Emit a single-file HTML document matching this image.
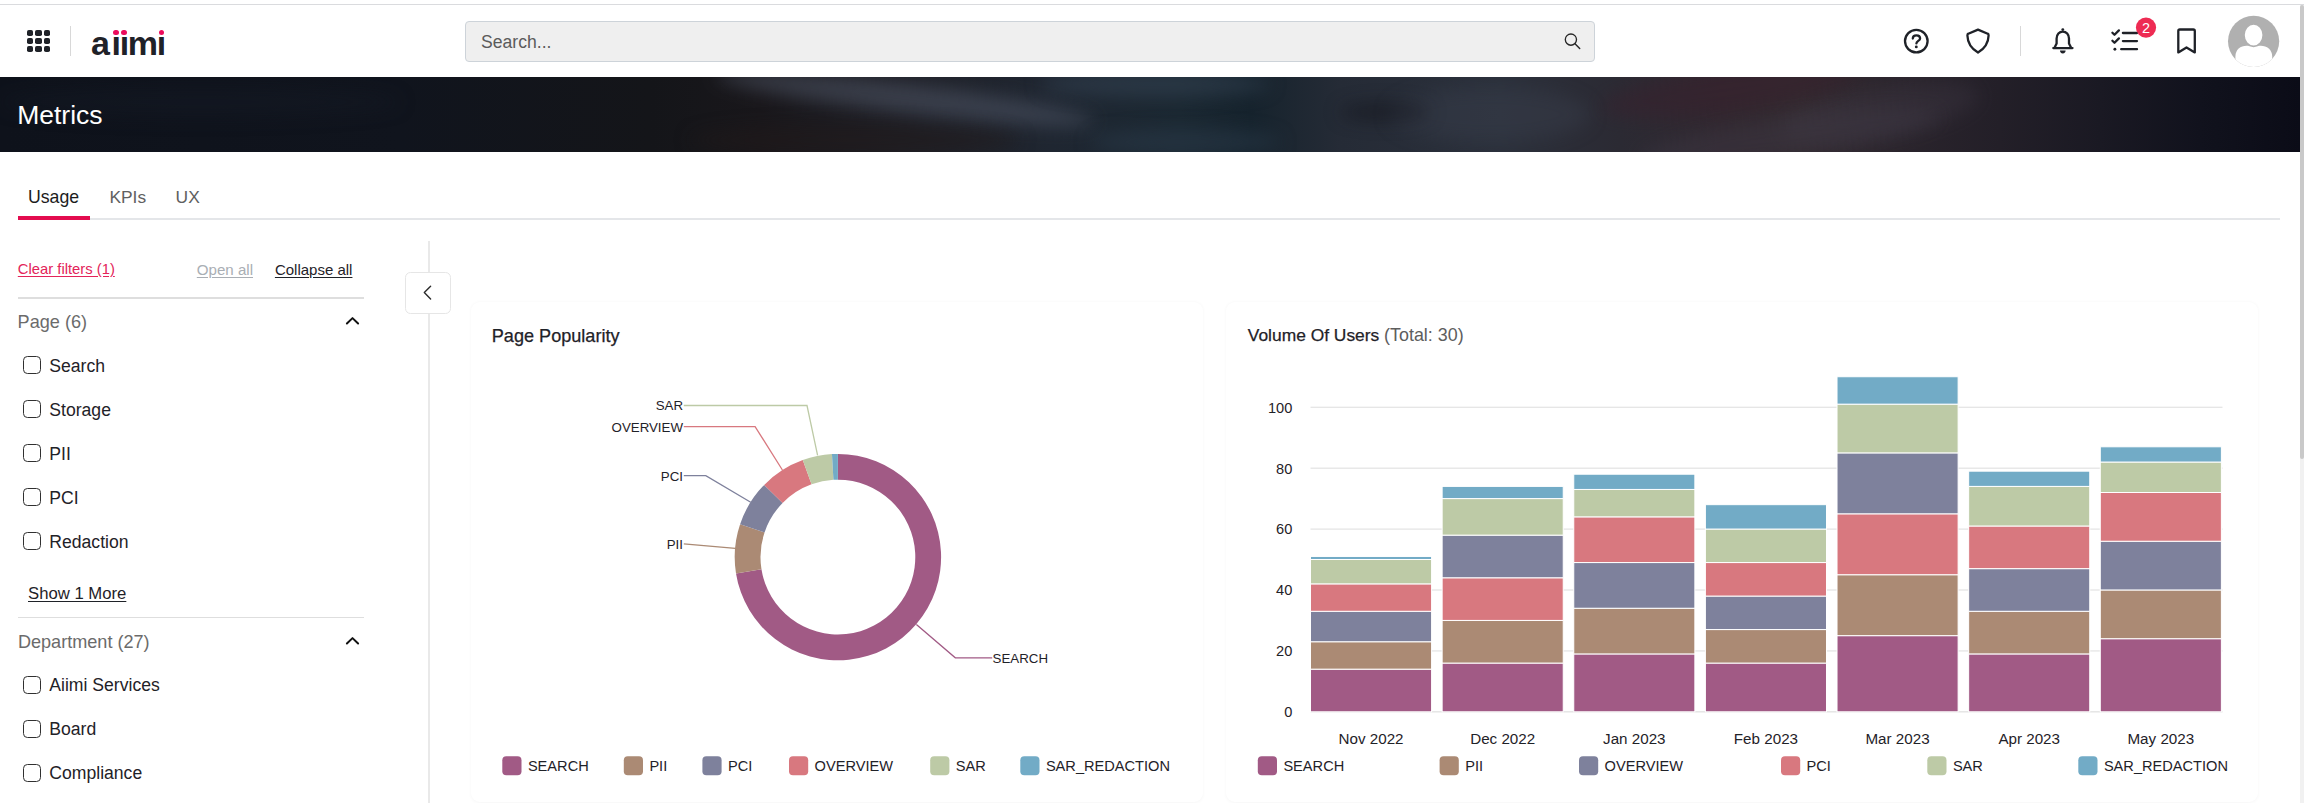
<!DOCTYPE html>
<html lang="en">
<head>
<meta charset="utf-8">
<title>Metrics</title>
<style>
*{margin:0;padding:0;box-sizing:border-box}
html,body{width:2304px;height:803px;overflow:hidden;background:#fff}
body{position:relative;font-family:"Liberation Sans",Arial,sans-serif;color:#1f2228}
.a{position:absolute;white-space:nowrap;line-height:1}
.u{text-decoration:underline;text-underline-offset:2px;text-decoration-thickness:1px}
.med{-webkit-text-stroke:0.35px currentColor}
#topline{position:absolute;left:0;top:4px;width:2304px;height:1px;background:#dadbde}
#sb-track{position:absolute;left:2300px;top:5px;width:4px;height:798px;background:#f1f1f1}
#sb-thumb{position:absolute;left:2300px;top:5px;width:4px;height:454px;background:#c9c9c9;border-radius:2px}
.grid{position:absolute;left:27.3px;top:29.9px;width:24px;height:23px}
.grid i{position:absolute;width:6.2px;height:6px;border-radius:1.8px;background:#1f2228}
.ln{position:absolute;background:#dcdcdc}
#logo{position:absolute;left:91px;top:25.9px;line-height:1;font-weight:bold;font-size:34px;color:#1f2228;letter-spacing:-1.3px;clip-path:inset(9.3px 0 0 0)}
#logo b{letter-spacing:1.6px}
.dot{position:absolute;width:5.6px;height:5.6px;border-radius:50%;background:#ec0c5c}
#search{position:absolute;left:465px;top:21px;width:1130px;height:41px;background:#efefef;border:1px solid #cdd3d9;border-radius:4px}
#banner{position:absolute;left:0;top:77px;width:2300px;height:75px;overflow:hidden;
background:linear-gradient(90deg,#0e121b 0px,#10141d 400px,#141519 650px,#19171b 760px,#1e1f26 900px,#1f2631 1050px,#1b2832 1180px,#16232d 1250px,#252b36 1340px,#2b303b 1500px,#2b2a33 1620px,#30272f 1720px,#31292f 1800px,#2a242c 1900px,#231f28 2000px,#1a1923 2100px,#11121d 2200px,#0b0c17 2300px)}
#banner i{position:absolute;display:block;border-radius:50%;filter:blur(9px)}
.cb{position:absolute;left:23.2px;width:17.6px;height:17.5px;border:1.6px solid #303030;border-radius:4.4px;background:#fff}
.card{position:absolute;background:#fff;border-radius:9px;box-shadow:0 0.5px 3.5px rgba(0,0,0,0.04)}
</style>
</head>
<body>
<div id="topline"></div><div id="sb-track"></div><div id="sb-thumb"></div>
<div class="grid"><i style="left:0.0px;top:0.00px"></i><i style="left:8.2px;top:0.00px"></i><i style="left:16.4px;top:0.00px"></i><i style="left:0.0px;top:8.25px"></i><i style="left:8.2px;top:8.25px"></i><i style="left:16.4px;top:8.25px"></i><i style="left:0.0px;top:16.50px"></i><i style="left:8.2px;top:16.50px"></i><i style="left:16.4px;top:16.50px"></i></div>
<div class="ln" style="left:70.2px;top:26.2px;width:1px;height:30px;background:#d8d8d8"></div>
<div id="logo"><b>a</b>iimi</div>
<div class="dot" style="left:113.4px;top:29.7px"></div><div class="dot" style="left:121.4px;top:29.7px"></div><div class="dot" style="left:158.7px;top:29.7px"></div>
<div id="search"></div>
<div class="a" style="left:481.0px;top:33.70px;font-size:17.6px;color:#5b5b5b;">Search...</div>
<svg style="position:absolute;left:1560px;top:30px" width="26" height="26" viewBox="1560 30 26 26"><circle cx="1570.9" cy="39.6" r="5.6" fill="none" stroke="#262626" stroke-width="1.35"/><path d="M1575 43.7 L1579.7 48.4" stroke="#262626" stroke-width="1.45" stroke-linecap="round"/></svg>
<svg style="position:absolute;left:1890px;top:5px" width="410" height="72" viewBox="1890 5 410 72">
<g fill="none" stroke="#1f2228" stroke-width="2.3" stroke-linecap="round" stroke-linejoin="round">
<circle cx="1916.3" cy="41.1" r="11.3"/>
<path d="M1912.8 38.6 C1912.8 36.3 1914.4 35.3 1916.4 35.3 C1918.5 35.3 1920.1 36.6 1920.1 38.4 C1920.1 40.7 1916.4 41.1 1916.4 43.4"/>
<path d="M1978 29.6 L1968.3 33.7 C1967.5 34 1967.4 34.6 1967.4 35.5 C1967.6 43.2 1971.4 48.6 1978 52.6 C1984.6 48.6 1988.4 43.2 1988.6 35.5 C1988.6 34.6 1988.5 34 1987.7 33.7 Z"/>
<path d="M2053.3 48.1 L2072.5 48.1 M2054.6 47.6 L2056.6 43.6 L2056.6 38.6 C2056.6 34.6 2059.3 31.6 2062.8 31.6 C2066.3 31.6 2069 34.6 2069 38.6 L2069 43.6 L2071 47.6"/>
<path d="M2112.4 32.7 L2114.5 34.8 L2118.9 30.4 M2112.4 40.7 L2114.5 42.8 L2118.9 38.4"/>
<path d="M2122.9 33 L2137 33 M2122.9 41.1 L2137 41.1 M2121.2 49.2 L2137 49.2"/>
<path d="M2179.8 29.5 L2193.3 29.5 Q2194.8 29.5 2194.8 31 L2194.8 52.4 L2186.5 47.4 L2178.3 52.4 L2178.3 31 Q2178.3 29.5 2179.8 29.5 Z"/>
</g>
<g fill="#1f2228">
<circle cx="1916.3" cy="46.9" r="1.45"/>
<circle cx="2062.8" cy="29.6" r="1.4"/>
<path d="M2060 50.6 L2065.6 50.6 A2.8 2.8 0 0 1 2060 50.6 Z"/>
<circle cx="2114.9" cy="49.2" r="1.45"/>
</g>
<circle cx="2146" cy="27.6" r="10.1" fill="#ee2b53"/>
<text x="2146" y="32.6" fill="#fff" font-size="14.5" text-anchor="middle" font-family="Liberation Sans, Arial, sans-serif">2</text>
<defs><clipPath id="av"><circle cx="2253.6" cy="41.3" r="25.6"/></clipPath></defs>
<circle cx="2253.6" cy="41.3" r="25.6" fill="#b0b0b0"/>
<g clip-path="url(#av)" fill="#fff">
<path d="M2235.4 70 L2235.4 56.5 C2235.4 49.5 2240.5 45.7 2246.5 45.7 L2260.8 45.7 C2266.8 45.7 2272.2 49.5 2272.2 56.5 L2272.2 70 Z"/>
<ellipse cx="2253.6" cy="35.1" rx="9.7" ry="11.2" stroke="#b0b0b0" stroke-width="1.8"/>
</g>
</svg>
<div class="ln" style="left:2020px;top:26.2px;width:1px;height:30px;background:#d8d8d8"></div>
<div id="banner"><i style="left:715px;top:6px;width:380px;height:30px;background:rgba(78,86,102,0.55);transform:rotate(7deg)"></i><i style="left:690px;top:48px;width:330px;height:30px;background:rgba(34,26,26,0.5)"></i><i style="left:1390px;top:10px;width:200px;height:55px;background:rgba(60,66,80,0.35)"></i><i style="left:1780px;top:10px;width:200px;height:50px;background:rgba(66,58,72,0.3);transform:rotate(-10deg)"></i><i style="left:1040px;top:-6px;width:230px;height:26px;background:rgba(52,68,84,0.55)"></i><i style="left:1090px;top:52px;width:190px;height:26px;background:rgba(44,60,76,0.5)"></i><i style="left:1340px;top:26px;width:90px;height:18px;background:rgba(14,14,20,0.45)"></i><i style="left:1600px;top:-10px;width:260px;height:45px;background:rgba(58,32,44,0.45);transform:rotate(-8deg)"></i><i style="left:1640px;top:40px;width:300px;height:40px;background:rgba(62,58,70,0.4);transform:rotate(-8deg)"></i><i style="left:0px;top:10px;width:400px;height:30px;background:rgba(24,28,40,0.35)"></i></div>
<div class="a" style="left:17.2px;top:102.47px;font-size:26.5px;color:#ffffff;">Metrics</div>
<div class="a" style="left:28.0px;top:188.62px;font-size:17.7px;color:#1c1c1c;">Usage</div>
<div class="a" style="left:109.4px;top:188.87px;font-size:17.4px;color:#606060;">KPIs</div>
<div class="a" style="left:175.6px;top:188.87px;font-size:17.4px;color:#606060;">UX</div>
<div class="ln" style="left:18px;top:218px;width:2261.5px;height:2px;background:#e4e6e9"></div>
<div class="ln" style="left:18px;top:216px;width:71.7px;height:4px;background:#e30c4f"></div>
<div class="a" style="left:17.8px;top:261.97px;font-size:14.8px;color:#e3245a;text-decoration:underline;text-underline-offset:1.5px">Clear filters (1)</div>
<div class="a" style="left:196.8px;top:261.72px;font-size:15.1px;color:#a9aeb4;text-decoration:underline;text-underline-offset:1.5px">Open all</div>
<div class="a" style="left:274.9px;top:261.80px;font-size:15.0px;color:#1f2228;text-decoration:underline;text-underline-offset:1.5px">Collapse all</div>
<div class="ln" style="left:18px;top:297px;width:346px;height:1.5px;background:#dedede"></div>
<div class="a" style="left:17.6px;top:313.48px;font-size:18.1px;color:#6b6b6b;">Page (6)</div>
<svg style="position:absolute;left:340px;top:311px" width="26" height="20" viewBox="340 311 26 20"><path d="M346.9 323.5 L352.5 318.1 L358.1 323.5" fill="none" stroke="#111" stroke-width="2" stroke-linecap="round" stroke-linejoin="round"/></svg>
<div class="cb" style="top:356.3px"></div><div class="a" style="left:49.3px;top:357.50px;font-size:17.6px;color:#1f2228;">Search</div>
<div class="cb" style="top:400.3px"></div><div class="a" style="left:49.3px;top:401.50px;font-size:17.6px;color:#1f2228;">Storage</div>
<div class="cb" style="top:444.3px"></div><div class="a" style="left:49.3px;top:445.50px;font-size:17.6px;color:#1f2228;">PII</div>
<div class="cb" style="top:488.3px"></div><div class="a" style="left:49.3px;top:489.50px;font-size:17.6px;color:#1f2228;">PCI</div>
<div class="cb" style="top:532.3px"></div><div class="a" style="left:49.3px;top:533.50px;font-size:17.6px;color:#1f2228;">Redaction</div>
<div class="a" style="left:28.0px;top:585.66px;font-size:16.7px;color:#1f2228;text-decoration:underline;text-underline-offset:2px">Show 1 More</div>
<div class="ln" style="left:18px;top:616.5px;width:346px;height:1.5px;background:#dedede"></div>
<div class="a" style="left:17.9px;top:633.18px;font-size:18.1px;color:#6b6b6b;">Department (27)</div>
<svg style="position:absolute;left:340px;top:631px" width="26" height="20" viewBox="340 631 26 20"><path d="M346.9 643.5 L352.5 638.1 L358.1 643.5" fill="none" stroke="#111" stroke-width="2" stroke-linecap="round" stroke-linejoin="round"/></svg>
<div class="cb" style="top:676.4px"></div><div class="a" style="left:49.3px;top:677.40px;font-size:17.6px;color:#1f2228;">Aiimi Services</div>
<div class="cb" style="top:720.4px"></div><div class="a" style="left:49.3px;top:721.40px;font-size:17.6px;color:#1f2228;">Board</div>
<div class="cb" style="top:764.4px"></div><div class="a" style="left:49.3px;top:765.40px;font-size:17.6px;color:#1f2228;">Compliance</div>
<div class="ln" style="left:428.2px;top:240.5px;width:1.9px;height:563px;background:#e9e9e9"></div>
<div style="position:absolute;left:405.3px;top:271.5px;width:45.4px;height:42.6px;border:1.5px solid #e6e6e6;border-radius:5.5px;background:#fff"></div>
<svg style="position:absolute;left:415px;top:280px" width="25" height="25" viewBox="415 280 25 25"><path d="M430.6 286.3 L424.3 292.6 L430.6 298.9" fill="none" stroke="#2a2a2a" stroke-width="1.4" stroke-linecap="round" stroke-linejoin="round"/></svg>
<div class="card" style="left:471px;top:302px;width:731.5px;height:500px"></div>
<div class="card" style="left:1225.8px;top:302px;width:1032.7px;height:500px"></div>
<div class="a" style="left:491.8px;top:326.58px;font-size:18.1px;color:#1f2228;-webkit-text-stroke:0.25px #1f2228">Page Popularity</div>
<div class="a" style="left:1247.8px;top:327.17px;font-size:17.4px;color:#1f2228;-webkit-text-stroke:0.25px #1f2228">Volume Of Users <span style="-webkit-text-stroke:0;color:#5d5d5d;font-size:17.9px">(Total: 30)</span></div>
<svg style="position:absolute;left:471px;top:301px" width="732" height="501" viewBox="471 301 732 501"><path d="M837.90 453.90 A103.2 103.2 0 1 1 736.00 573.42 L761.47 569.34 A77.4 77.4 0 1 0 837.90 479.70 Z" fill="#a15a85"/><path d="M736.00 573.42 A103.2 103.2 0 0 1 740.09 524.18 L764.54 532.41 A77.4 77.4 0 0 0 761.47 569.34 Z" fill="#ab8a74"/><path d="M740.09 524.18 A103.2 103.2 0 0 1 764.17 484.89 L782.60 502.95 A77.4 77.4 0 0 0 764.54 532.41 Z" fill="#7e819c"/><path d="M764.17 484.89 A103.2 103.2 0 0 1 802.77 460.06 L811.55 484.32 A77.4 77.4 0 0 0 782.60 502.95 Z" fill="#d8787f"/><path d="M802.77 460.06 A103.2 103.2 0 0 1 831.96 454.07 L833.44 479.83 A77.4 77.4 0 0 0 811.55 484.32 Z" fill="#bdcaa6"/><path d="M831.96 454.07 A103.2 103.2 0 0 1 837.90 453.90 L837.90 479.70 A77.4 77.4 0 0 0 833.44 479.83 Z" fill="#72abc6"/><path d="M683.8 405.5 L807.0 405.5 L817.6 455.4" fill="none" stroke="#bdcaa6" stroke-width="1.3"/><path d="M683.8 426.6 L755.1 426.6 L782.4 470.0" fill="none" stroke="#d8787f" stroke-width="1.3"/><path d="M683.8 475.7 L705.8 475.7 L750.7 502.2" fill="none" stroke="#7e819c" stroke-width="1.3"/><path d="M683.8 543.9 L735.4 548.3" fill="none" stroke="#ab8a74" stroke-width="1.3"/><path d="M916.4 624.4 L955.3 657.8 L992.2 657.8" fill="none" stroke="#a15a85" stroke-width="1.3"/><text x="683" y="410.4" font-size="13.3" text-anchor="end" fill="#1f2228" font-family="Liberation Sans, Arial, sans-serif">SAR</text><text x="683" y="431.5" font-size="13.3" text-anchor="end" fill="#1f2228" font-family="Liberation Sans, Arial, sans-serif">OVERVIEW</text><text x="683" y="480.6" font-size="13.3" text-anchor="end" fill="#1f2228" font-family="Liberation Sans, Arial, sans-serif">PCI</text><text x="683" y="548.8" font-size="13.3" text-anchor="end" fill="#1f2228" font-family="Liberation Sans, Arial, sans-serif">PII</text><text x="992.6" y="662.7" font-size="13.3" fill="#1f2228" font-family="Liberation Sans, Arial, sans-serif">SEARCH</text><rect x="502.3" y="756.2" width="19.2" height="19" rx="4" fill="#a15a85"/><text x="527.9" y="771.4" font-size="14.6" fill="#1f2228" font-family="Liberation Sans, Arial, sans-serif">SEARCH</text><rect x="623.8" y="756.2" width="19.2" height="19" rx="4" fill="#ab8a74"/><text x="649.4" y="771.4" font-size="14.6" fill="#1f2228" font-family="Liberation Sans, Arial, sans-serif">PII</text><rect x="702.4" y="756.2" width="19.2" height="19" rx="4" fill="#7e819c"/><text x="728.0" y="771.4" font-size="14.6" fill="#1f2228" font-family="Liberation Sans, Arial, sans-serif">PCI</text><rect x="789.0" y="756.2" width="19.2" height="19" rx="4" fill="#d8787f"/><text x="814.6" y="771.4" font-size="14.6" fill="#1f2228" font-family="Liberation Sans, Arial, sans-serif">OVERVIEW</text><rect x="930.2" y="756.2" width="19.2" height="19" rx="4" fill="#bdcaa6"/><text x="955.8" y="771.4" font-size="14.6" fill="#1f2228" font-family="Liberation Sans, Arial, sans-serif">SAR</text><rect x="1020.3" y="756.2" width="19.2" height="19" rx="4" fill="#72abc6"/><text x="1045.9" y="771.4" font-size="14.6" fill="#1f2228" font-family="Liberation Sans, Arial, sans-serif">SAR_REDACTION</text></svg>
<svg style="position:absolute;left:1225px;top:301px" width="1034" height="501" viewBox="1225 301 1034 501"><rect x="1310.5" y="711.30" width="912" height="1.1" fill="#dcdcdc"/><text x="1292.3" y="717.1" font-size="14.6" text-anchor="end" fill="#1f2228" font-family="Liberation Sans, Arial, sans-serif">0</text><rect x="1310.5" y="650.38" width="912" height="1.1" fill="#e0e0e0"/><text x="1292.3" y="656.2" font-size="14.6" text-anchor="end" fill="#1f2228" font-family="Liberation Sans, Arial, sans-serif">20</text><rect x="1310.5" y="589.46" width="912" height="1.1" fill="#e0e0e0"/><text x="1292.3" y="595.3" font-size="14.6" text-anchor="end" fill="#1f2228" font-family="Liberation Sans, Arial, sans-serif">40</text><rect x="1310.5" y="528.54" width="912" height="1.1" fill="#e0e0e0"/><text x="1292.3" y="534.4" font-size="14.6" text-anchor="end" fill="#1f2228" font-family="Liberation Sans, Arial, sans-serif">60</text><rect x="1310.5" y="467.62" width="912" height="1.1" fill="#e0e0e0"/><text x="1292.3" y="473.5" font-size="14.6" text-anchor="end" fill="#1f2228" font-family="Liberation Sans, Arial, sans-serif">80</text><rect x="1310.5" y="406.70" width="912" height="1.1" fill="#e0e0e0"/><text x="1292.3" y="412.5" font-size="14.6" text-anchor="end" fill="#1f2228" font-family="Liberation Sans, Arial, sans-serif">100</text><rect x="1310.50" y="669.16" width="121.1" height="42.64" fill="#a15a85" stroke="#fff" stroke-width="1"/><rect x="1310.50" y="641.74" width="121.1" height="27.41" fill="#ab8a74" stroke="#fff" stroke-width="1"/><rect x="1310.50" y="611.28" width="121.1" height="30.46" fill="#7e819c" stroke="#fff" stroke-width="1"/><rect x="1310.50" y="583.87" width="121.1" height="27.41" fill="#d8787f" stroke="#fff" stroke-width="1"/><rect x="1310.50" y="559.50" width="121.1" height="24.37" fill="#bdcaa6" stroke="#fff" stroke-width="1"/><rect x="1310.50" y="556.45" width="121.1" height="3.05" fill="#72abc6" stroke="#fff" stroke-width="1"/><text x="1371.05" y="744.3" font-size="15.2" text-anchor="middle" fill="#1f2228" font-family="Liberation Sans, Arial, sans-serif">Nov 2022</text><rect x="1442.13" y="663.06" width="121.1" height="48.74" fill="#a15a85" stroke="#fff" stroke-width="1"/><rect x="1442.13" y="620.42" width="121.1" height="42.64" fill="#ab8a74" stroke="#fff" stroke-width="1"/><rect x="1442.13" y="577.78" width="121.1" height="42.64" fill="#d8787f" stroke="#fff" stroke-width="1"/><rect x="1442.13" y="535.13" width="121.1" height="42.64" fill="#7e819c" stroke="#fff" stroke-width="1"/><rect x="1442.13" y="498.58" width="121.1" height="36.55" fill="#bdcaa6" stroke="#fff" stroke-width="1"/><rect x="1442.13" y="486.40" width="121.1" height="12.18" fill="#72abc6" stroke="#fff" stroke-width="1"/><text x="1502.68" y="744.3" font-size="15.2" text-anchor="middle" fill="#1f2228" font-family="Liberation Sans, Arial, sans-serif">Dec 2022</text><rect x="1573.76" y="653.93" width="121.1" height="57.87" fill="#a15a85" stroke="#fff" stroke-width="1"/><rect x="1573.76" y="608.24" width="121.1" height="45.69" fill="#ab8a74" stroke="#fff" stroke-width="1"/><rect x="1573.76" y="562.55" width="121.1" height="45.69" fill="#7e819c" stroke="#fff" stroke-width="1"/><rect x="1573.76" y="516.86" width="121.1" height="45.69" fill="#d8787f" stroke="#fff" stroke-width="1"/><rect x="1573.76" y="489.44" width="121.1" height="27.41" fill="#bdcaa6" stroke="#fff" stroke-width="1"/><rect x="1573.76" y="474.21" width="121.1" height="15.23" fill="#72abc6" stroke="#fff" stroke-width="1"/><text x="1634.31" y="744.3" font-size="15.2" text-anchor="middle" fill="#1f2228" font-family="Liberation Sans, Arial, sans-serif">Jan 2023</text><rect x="1705.39" y="663.06" width="121.1" height="48.74" fill="#a15a85" stroke="#fff" stroke-width="1"/><rect x="1705.39" y="629.56" width="121.1" height="33.51" fill="#ab8a74" stroke="#fff" stroke-width="1"/><rect x="1705.39" y="596.05" width="121.1" height="33.51" fill="#7e819c" stroke="#fff" stroke-width="1"/><rect x="1705.39" y="562.55" width="121.1" height="33.51" fill="#d8787f" stroke="#fff" stroke-width="1"/><rect x="1705.39" y="529.04" width="121.1" height="33.51" fill="#bdcaa6" stroke="#fff" stroke-width="1"/><rect x="1705.39" y="504.67" width="121.1" height="24.37" fill="#72abc6" stroke="#fff" stroke-width="1"/><text x="1765.94" y="744.3" font-size="15.2" text-anchor="middle" fill="#1f2228" font-family="Liberation Sans, Arial, sans-serif">Feb 2023</text><rect x="1837.02" y="635.65" width="121.1" height="76.15" fill="#a15a85" stroke="#fff" stroke-width="1"/><rect x="1837.02" y="574.73" width="121.1" height="60.92" fill="#ab8a74" stroke="#fff" stroke-width="1"/><rect x="1837.02" y="513.81" width="121.1" height="60.92" fill="#d8787f" stroke="#fff" stroke-width="1"/><rect x="1837.02" y="452.89" width="121.1" height="60.92" fill="#7e819c" stroke="#fff" stroke-width="1"/><rect x="1837.02" y="404.15" width="121.1" height="48.74" fill="#bdcaa6" stroke="#fff" stroke-width="1"/><rect x="1837.02" y="376.74" width="121.1" height="27.41" fill="#72abc6" stroke="#fff" stroke-width="1"/><text x="1897.57" y="744.3" font-size="15.2" text-anchor="middle" fill="#1f2228" font-family="Liberation Sans, Arial, sans-serif">Mar 2023</text><rect x="1968.65" y="653.93" width="121.1" height="57.87" fill="#a15a85" stroke="#fff" stroke-width="1"/><rect x="1968.65" y="611.28" width="121.1" height="42.64" fill="#ab8a74" stroke="#fff" stroke-width="1"/><rect x="1968.65" y="568.64" width="121.1" height="42.64" fill="#7e819c" stroke="#fff" stroke-width="1"/><rect x="1968.65" y="525.99" width="121.1" height="42.64" fill="#d8787f" stroke="#fff" stroke-width="1"/><rect x="1968.65" y="486.40" width="121.1" height="39.60" fill="#bdcaa6" stroke="#fff" stroke-width="1"/><rect x="1968.65" y="471.17" width="121.1" height="15.23" fill="#72abc6" stroke="#fff" stroke-width="1"/><text x="2029.20" y="744.3" font-size="15.2" text-anchor="middle" fill="#1f2228" font-family="Liberation Sans, Arial, sans-serif">Apr 2023</text><rect x="2100.28" y="638.70" width="121.1" height="73.10" fill="#a15a85" stroke="#fff" stroke-width="1"/><rect x="2100.28" y="589.96" width="121.1" height="48.74" fill="#ab8a74" stroke="#fff" stroke-width="1"/><rect x="2100.28" y="541.22" width="121.1" height="48.74" fill="#7e819c" stroke="#fff" stroke-width="1"/><rect x="2100.28" y="492.49" width="121.1" height="48.74" fill="#d8787f" stroke="#fff" stroke-width="1"/><rect x="2100.28" y="462.03" width="121.1" height="30.46" fill="#bdcaa6" stroke="#fff" stroke-width="1"/><rect x="2100.28" y="446.80" width="121.1" height="15.23" fill="#72abc6" stroke="#fff" stroke-width="1"/><text x="2160.83" y="744.3" font-size="15.2" text-anchor="middle" fill="#1f2228" font-family="Liberation Sans, Arial, sans-serif">May 2023</text><rect x="1257.8" y="756.2" width="19.2" height="19" rx="4" fill="#a15a85"/><text x="1283.4" y="771.4" font-size="14.6" fill="#1f2228" font-family="Liberation Sans, Arial, sans-serif">SEARCH</text><rect x="1439.6" y="756.2" width="19.2" height="19" rx="4" fill="#ab8a74"/><text x="1465.2" y="771.4" font-size="14.6" fill="#1f2228" font-family="Liberation Sans, Arial, sans-serif">PII</text><rect x="1579.0" y="756.2" width="19.2" height="19" rx="4" fill="#7e819c"/><text x="1604.6" y="771.4" font-size="14.6" fill="#1f2228" font-family="Liberation Sans, Arial, sans-serif">OVERVIEW</text><rect x="1781.0" y="756.2" width="19.2" height="19" rx="4" fill="#d8787f"/><text x="1806.6" y="771.4" font-size="14.6" fill="#1f2228" font-family="Liberation Sans, Arial, sans-serif">PCI</text><rect x="1927.3" y="756.2" width="19.2" height="19" rx="4" fill="#bdcaa6"/><text x="1952.9" y="771.4" font-size="14.6" fill="#1f2228" font-family="Liberation Sans, Arial, sans-serif">SAR</text><rect x="2078.3" y="756.2" width="19.2" height="19" rx="4" fill="#72abc6"/><text x="2103.9" y="771.4" font-size="14.6" fill="#1f2228" font-family="Liberation Sans, Arial, sans-serif">SAR_REDACTION</text></svg>
</body>
</html>
